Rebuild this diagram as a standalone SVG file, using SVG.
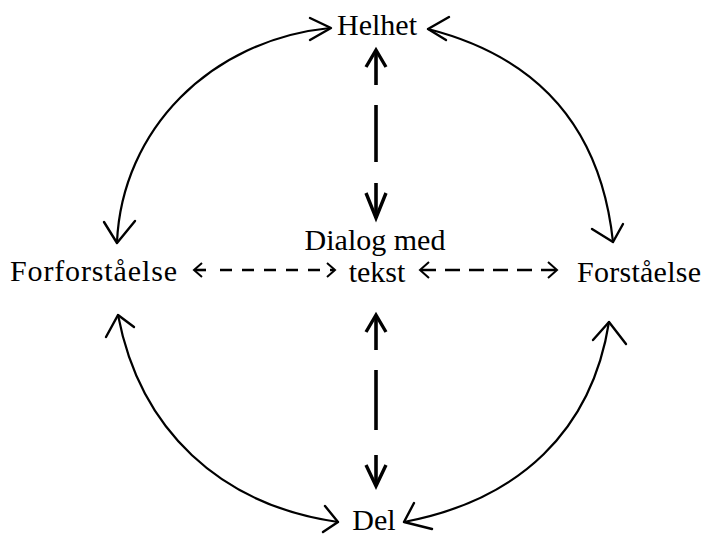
<svg xmlns="http://www.w3.org/2000/svg" width="708" height="535" viewBox="0 0 708 535">
<style>
text{font-family:"Liberation Serif","Times New Roman",serif;font-size:30px;fill:#000}
.arc{fill:none;stroke:#000;stroke-width:2.2;stroke-linecap:round}
.head{fill:none;stroke:#000;stroke-width:2.4;stroke-linecap:round;stroke-linejoin:round}
.vs{fill:none;stroke:#000;stroke-width:3.6}
.vh{fill:none;stroke:#000;stroke-width:3.4;stroke-linejoin:miter}
.hd{fill:none;stroke:#000;stroke-width:2.6}
.hh{fill:none;stroke:#000;stroke-width:2}
</style>
<rect width="708" height="535" fill="#fff"/>
<g id="helhet"><text x="377" y="35" text-anchor="middle">Helhet</text></g>
<g id="dialog"><text x="375" y="250" text-anchor="middle">Dialog med</text><text x="377" y="282" text-anchor="middle">tekst</text></g>
<g id="forforstaaelse"><text x="10" y="281" textLength="167" lengthAdjust="spacing">Forforståelse</text></g>
<g id="forstaaelse"><text x="577" y="282" textLength="124" lengthAdjust="spacing">Forståelse</text></g>
<g id="del"><text x="374" y="530" text-anchor="middle">Del</text></g>
<g id="connectors">
<!-- arcs -->
<path class="arc" d="M117,242 C122,130 210,40 330,28"/>
<polyline class="head" points="310,18 331,28 310,40"/>
<polyline class="head" points="104,222 117,243 135,221"/>
<path class="arc" d="M428,29 C530,55 600,120 613,242"/>
<polyline class="head" points="449,17 428,29 446,40"/>
<polyline class="head" points="592,229 613,242 623,224"/>
<path class="arc" d="M118,315 C140,430 220,505 338,522"/>
<polyline class="head" points="106,337 118,315 134,327"/>
<polyline class="head" points="325,506 338,522 323,532"/>
<path class="arc" d="M609,322 C592,430 520,500 404,522"/>
<polyline class="head" points="593,340 609,322 626,344"/>
<polyline class="head" points="414,503 404,522 432,529"/>
<!-- vertical top -->
<line class="vs" x1="376" y1="50" x2="376" y2="85"/>
<polyline class="vh" points="366,67 376,50 386,67"/>
<line class="vs" x1="376" y1="105" x2="376" y2="162"/>
<line class="vs" x1="376" y1="183" x2="376" y2="218"/>
<polyline class="vh" points="366,193 376,218 386,193"/>
<!-- vertical bottom -->
<line class="vs" x1="376" y1="315" x2="376" y2="350"/>
<polyline class="vh" points="366,332 376,315 386,332"/>
<line class="vs" x1="376" y1="370" x2="376" y2="430"/>
<line class="vs" x1="376" y1="455" x2="376" y2="486"/>
<polyline class="vh" points="366,465 376,486 386,465"/>
<!-- horizontal left -->
<line class="hd" x1="195" y1="270" x2="206" y2="270"/>
<polyline class="hh" points="202,263 194,270 202,277"/>
<line class="hd" x1="220" y1="270" x2="334" y2="270" stroke-dasharray="12 10"/>
<polyline class="hh" points="327,263 335,270 327,277"/>
<!-- horizontal right -->
<line class="hd" x1="421" y1="270" x2="557" y2="270" stroke-dasharray="15 9"/>
<polyline class="hh" points="429,262 420,270 429,278"/>
<polyline class="hh" points="548,262 557,270 548,278"/>
</g>
</svg>
